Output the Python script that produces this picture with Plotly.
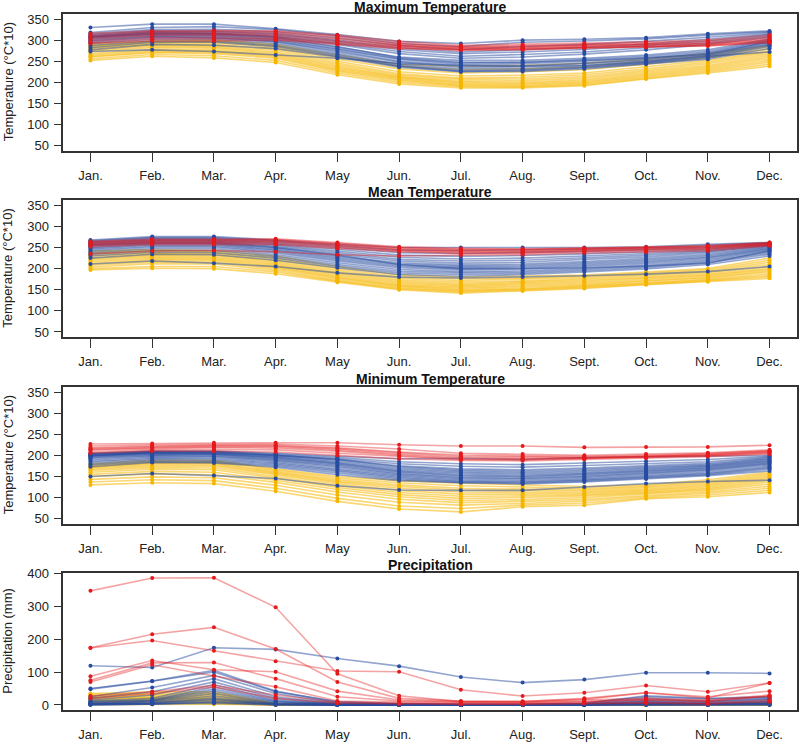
import plotly.graph_objects as go

months = ["Jan.", "Feb.", "Mar.", "Apr.", "May", "Jun.", "Jul.", "Aug.", "Sept.", "Oct.", "Nov.", "Dec."]
month_num = list(range(1, 13))

# ---------------- Maximum temperature (°C*10) ----------------
tmax_red = [
    [316, 322, 323, 322, 312, 297, 288, 290, 293, 296, 300, 312],
    [312, 320, 321, 320, 309, 293, 285, 287, 290, 293, 297, 308],
    [308, 317, 318, 317, 305, 290, 283, 285, 288, 291, 294, 305],
    [305, 314, 315, 313, 302, 288, 282, 283, 287, 289, 292, 302],
    [302, 311, 312, 310, 298, 286, 280, 281, 285, 287, 290, 300],
    [298, 306, 307, 306, 295, 284, 278, 280, 283, 285, 288, 298],
    [294, 302, 303, 303, 292, 282, 277, 278, 282, 284, 287, 296],
    [292, 298, 298, 300, 290, 280, 276, 277, 281, 283, 286, 294],
]
tmax_blue = [
    [330, 338, 338, 327, 313, 297, 292, 300, 302, 306, 315, 322],
    [318, 330, 332, 325, 310, 292, 285, 295, 298, 303, 312, 320],
    [315, 325, 326, 320, 305, 287, 278, 285, 290, 297, 307, 318],
    [312, 322, 322, 316, 300, 282, 272, 278, 283, 291, 302, 315],
    [310, 320, 320, 313, 297, 278, 268, 272, 278, 287, 298, 313],
    [308, 318, 317, 310, 293, 273, 262, 266, 272, 282, 294, 310],
    [308, 316, 316, 308, 290, 268, 257, 260, 267, 277, 290, 307],
    [307, 316, 315, 307, 285, 258, 248, 247, 252, 258, 266, 296],
    [305, 314, 313, 305, 283, 260, 252, 252, 257, 265, 277, 303],
    [303, 312, 311, 302, 280, 256, 246, 248, 254, 262, 273, 300],
    [300, 310, 309, 300, 278, 254, 243, 244, 250, 258, 270, 298],
    [298, 308, 306, 297, 275, 250, 240, 240, 246, 255, 268, 295],
    [295, 306, 305, 296, 272, 248, 236, 237, 244, 252, 265, 292],
    [292, 302, 302, 292, 268, 243, 232, 233, 240, 250, 263, 290],
    [287, 298, 298, 288, 265, 240, 228, 230, 236, 247, 260, 288],
    [282, 295, 295, 285, 262, 238, 226, 228, 235, 245, 258, 285],
    [277, 290, 288, 280, 260, 236, 225, 226, 232, 243, 255, 280],
    [273, 277, 273, 265, 257, 245, 240, 238, 240, 248, 262, 272],
]
tmax_yellow = [
    [290, 298, 300, 290, 265, 243, 238, 240, 245, 255, 268, 288],
    [287, 295, 297, 287, 260, 238, 230, 232, 237, 250, 263, 285],
    [285, 293, 294, 284, 255, 232, 222, 225, 230, 243, 258, 280],
    [282, 290, 290, 280, 250, 225, 215, 217, 222, 237, 252, 275],
    [280, 288, 287, 276, 246, 220, 210, 212, 218, 232, 248, 272],
    [276, 285, 284, 272, 242, 217, 207, 208, 214, 228, 244, 268],
    [273, 282, 281, 269, 238, 214, 203, 204, 210, 225, 240, 264],
    [268, 278, 277, 266, 235, 212, 200, 200, 206, 222, 237, 260],
    [265, 275, 274, 263, 232, 210, 197, 197, 203, 219, 234, 256],
    [262, 272, 271, 260, 229, 207, 194, 194, 200, 216, 231, 252],
    [260, 270, 268, 257, 226, 204, 192, 191, 197, 213, 228, 248],
    [256, 266, 263, 252, 222, 200, 190, 189, 194, 210, 225, 243],
    [252, 262, 258, 247, 218, 196, 187, 187, 192, 208, 222, 238],
]

# ---------------- Mean temperature (°C*10) ----------------
tmean_red = [
    [265, 270, 270, 271, 262, 252, 248, 247, 249, 251, 255, 262],
    [263, 268, 268, 269, 260, 250, 246, 246, 248, 250, 253, 261],
    [261, 266, 266, 267, 258, 248, 244, 244, 247, 249, 252, 260],
    [259, 264, 264, 265, 256, 246, 242, 242, 245, 247, 250, 259],
    [257, 262, 262, 263, 254, 244, 240, 240, 244, 246, 249, 258],
    [255, 260, 260, 260, 251, 242, 238, 238, 242, 244, 247, 257],
    [252, 257, 257, 257, 248, 240, 236, 236, 240, 242, 245, 256],
    [235, 242, 243, 240, 233, 230, 232, 233, 237, 239, 242, 254],
]
tmean_blue = [
    [268, 276, 276, 268, 258, 250, 250, 250, 250, 252, 258, 262],
    [266, 274, 274, 266, 254, 244, 243, 244, 246, 249, 255, 261],
    [264, 272, 272, 263, 250, 238, 236, 238, 241, 245, 251, 260],
    [262, 270, 270, 260, 246, 232, 229, 231, 235, 240, 247, 258],
    [260, 268, 268, 257, 242, 227, 223, 225, 230, 236, 244, 256],
    [258, 266, 266, 254, 238, 222, 218, 220, 226, 232, 241, 255],
    [256, 264, 264, 251, 234, 218, 213, 215, 222, 228, 238, 253],
    [255, 262, 262, 250, 232, 210, 200, 200, 202, 206, 213, 242],
    [253, 261, 261, 248, 230, 214, 209, 211, 217, 224, 234, 251],
    [250, 259, 259, 245, 227, 211, 206, 208, 214, 221, 231, 249],
    [248, 257, 257, 243, 224, 208, 203, 205, 211, 218, 228, 247],
    [245, 254, 254, 240, 221, 205, 200, 202, 208, 215, 226, 245],
    [242, 251, 251, 237, 218, 202, 197, 199, 205, 212, 223, 243],
    [238, 247, 247, 233, 214, 198, 193, 195, 201, 208, 220, 240],
    [234, 243, 243, 229, 210, 194, 190, 192, 198, 205, 217, 237],
    [230, 239, 238, 225, 206, 190, 186, 189, 195, 202, 214, 234],
    [225, 234, 233, 220, 202, 186, 182, 186, 192, 199, 210, 230],
    [211, 218, 213, 205, 190, 180, 178, 180, 183, 187, 193, 205],
]
tmean_yellow = [
    [242, 245, 243, 230, 205, 185, 180, 182, 185, 192, 200, 225],
    [238, 242, 240, 226, 200, 181, 176, 178, 182, 189, 197, 220],
    [234, 238, 237, 222, 196, 177, 172, 175, 179, 186, 194, 215],
    [230, 235, 234, 218, 192, 173, 168, 171, 176, 183, 191, 210],
    [226, 232, 231, 215, 189, 170, 164, 168, 173, 180, 188, 205],
    [223, 229, 228, 212, 186, 167, 161, 165, 170, 178, 185, 201],
    [220, 226, 225, 209, 183, 164, 158, 162, 167, 175, 183, 198],
    [216, 223, 222, 206, 180, 161, 155, 159, 164, 172, 180, 195],
    [212, 220, 219, 203, 178, 159, 152, 156, 161, 170, 178, 192],
    [208, 216, 215, 200, 175, 157, 149, 153, 159, 167, 175, 188],
    [204, 212, 211, 196, 172, 154, 147, 151, 157, 165, 173, 184],
    [200, 205, 205, 192, 170, 152, 145, 149, 155, 163, 171, 181],
    [197, 201, 200, 188, 168, 150, 142, 147, 153, 162, 169, 177],
]

# ---------------- Minimum temperature (°C*10) ----------------
tmin_red = [
    [227, 228, 230, 230, 230, 225, 222, 222, 219, 220, 220, 224],
    [222, 225, 226, 227, 222, 215, 205, 203, 200, 203, 206, 213],
    [218, 222, 224, 224, 218, 208, 201, 199, 197, 200, 204, 211],
    [216, 220, 222, 222, 216, 206, 198, 196, 195, 198, 203, 210],
    [214, 218, 220, 220, 213, 203, 195, 193, 194, 197, 201, 208],
    [212, 216, 218, 217, 210, 200, 192, 191, 193, 196, 200, 207],
    [208, 213, 214, 213, 205, 197, 190, 189, 192, 195, 199, 205],
    [205, 210, 210, 208, 200, 192, 188, 187, 190, 193, 197, 203],
]
tmin_blue = [
    [205, 210, 210, 205, 198, 192, 193, 190, 195, 196, 198, 200],
    [204, 209, 209, 203, 195, 185, 180, 178, 182, 186, 190, 198],
    [203, 208, 208, 201, 192, 180, 174, 172, 176, 180, 185, 196],
    [202, 207, 207, 200, 190, 175, 168, 166, 170, 175, 181, 194],
    [200, 207, 206, 200, 190, 173, 165, 163, 167, 172, 178, 192],
    [200, 206, 205, 198, 187, 170, 162, 160, 164, 170, 176, 190],
    [199, 205, 204, 196, 184, 167, 159, 157, 161, 167, 174, 188],
    [198, 204, 203, 195, 182, 164, 156, 154, 158, 165, 172, 186],
    [197, 203, 202, 193, 180, 162, 153, 151, 156, 163, 170, 184],
    [195, 201, 200, 191, 178, 160, 151, 149, 154, 161, 168, 182],
    [193, 199, 198, 189, 175, 157, 148, 146, 151, 158, 166, 180],
    [190, 197, 196, 187, 172, 155, 146, 144, 149, 156, 164, 178],
    [187, 194, 193, 184, 168, 152, 143, 141, 146, 153, 161, 175],
    [184, 191, 190, 181, 165, 149, 140, 138, 143, 150, 158, 172],
    [180, 188, 187, 178, 162, 146, 138, 136, 141, 148, 156, 170],
    [177, 185, 184, 175, 158, 143, 136, 134, 139, 146, 154, 167],
    [173, 183, 182, 172, 154, 140, 135, 132, 137, 144, 152, 163],
    [150, 157, 152, 145, 128, 118, 117, 117, 125, 133, 138, 141],
]
tmin_yellow = [
    [180, 188, 188, 168, 150, 140, 134, 130, 126, 130, 142, 160],
    [177, 185, 185, 165, 146, 135, 128, 125, 122, 127, 138, 157],
    [174, 182, 182, 162, 142, 130, 122, 120, 119, 124, 135, 154],
    [172, 180, 180, 160, 139, 126, 118, 116, 116, 121, 132, 151],
    [170, 177, 177, 157, 136, 122, 113, 112, 113, 118, 129, 148],
    [167, 174, 174, 154, 132, 117, 108, 108, 110, 116, 126, 145],
    [164, 171, 170, 150, 128, 112, 103, 104, 107, 113, 123, 141],
    [160, 167, 166, 146, 124, 107, 98, 100, 104, 111, 120, 137],
    [155, 162, 160, 141, 119, 102, 93, 95, 100, 108, 117, 132],
    [150, 156, 154, 136, 113, 96, 88, 91, 96, 105, 113, 127],
    [143, 149, 147, 129, 106, 89, 82, 86, 92, 102, 110, 122],
    [137, 142, 140, 122, 98, 80, 74, 82, 87, 99, 106, 117],
    [130, 135, 133, 115, 91, 73, 66, 78, 82, 97, 102, 112],
]

# ---------------- Precipitation (mm) ----------------
prcp_red = [
    [347, 386, 387, 297, 95, 28, 10, 8, 10, 17, 12, 27],
    [174, 215, 236, 170, 70, 20, 12, 10, 20, 37, 21, 67],
    [173, 196, 165, 133, 103, 101, 46, 27, 37, 59, 40, 67],
    [87, 135, 107, 101, 42, 15, 10, 11, 17, 37, 25, 42],
    [75, 128, 129, 80, 25, 12, 8, 8, 15, 20, 15, 30],
    [70, 122, 88, 55, 12, 8, 6, 5, 10, 15, 10, 27],
    [27, 40, 60, 30, 8, 5, 3, 3, 5, 8, 5, 15],
    [20, 35, 55, 20, 5, 3, 2, 2, 4, 5, 3, 10],
]
prcp_blue = [
    [119, 114, 174, 169, 141, 118, 85, 68, 77, 98, 98, 96],
    [50, 73, 105, 42, 8, 3, 2, 2, 5, 28, 20, 25],
    [48, 72, 100, 40, 10, 4, 2, 2, 5, 25, 18, 23],
    [25, 53, 90, 35, 5, 2, 1, 1, 3, 20, 12, 20],
    [20, 40, 80, 25, 4, 1, 1, 1, 2, 15, 10, 18],
    [15, 30, 70, 20, 3, 1, 0, 0, 2, 12, 8, 15],
    [12, 20, 62, 15, 2, 1, 0, 0, 1, 10, 5, 12],
    [10, 15, 55, 12, 2, 0, 0, 0, 1, 8, 5, 10],
    [8, 14, 48, 10, 1, 0, 0, 0, 1, 6, 3, 8],
    [5, 12, 42, 8, 1, 0, 0, 0, 0, 5, 3, 6],
    [5, 10, 35, 5, 1, 0, 0, 0, 0, 4, 2, 5],
    [3, 8, 28, 4, 0, 0, 0, 0, 0, 3, 2, 4],
    [3, 6, 22, 3, 0, 0, 0, 0, 0, 2, 1, 3],
    [2, 5, 18, 2, 0, 0, 0, 0, 0, 2, 1, 2],
    [2, 4, 15, 2, 0, 0, 0, 0, 0, 1, 1, 2],
    [1, 3, 10, 1, 0, 0, 0, 0, 0, 1, 0, 1],
    [1, 2, 8, 1, 0, 0, 0, 0, 0, 1, 0, 1],
    [0, 2, 5, 0, 0, 0, 0, 0, 0, 0, 0, 0],
]
prcp_yellow = [
    [35, 40, 40, 5, 2, 0, 0, 0, 0, 2, 3, 8],
    [32, 35, 36, 4, 1, 0, 0, 0, 0, 1, 2, 6],
    [28, 30, 32, 3, 1, 0, 0, 0, 0, 1, 2, 5],
    [25, 27, 28, 3, 1, 0, 0, 0, 0, 1, 1, 4],
    [22, 24, 24, 2, 0, 0, 0, 0, 0, 1, 1, 3],
    [18, 22, 20, 2, 0, 0, 0, 0, 0, 0, 1, 3],
    [15, 20, 18, 1, 0, 0, 0, 0, 0, 0, 1, 2],
    [12, 17, 15, 1, 0, 0, 0, 0, 0, 0, 0, 2],
    [10, 14, 12, 1, 0, 0, 0, 0, 0, 0, 0, 1],
    [8, 12, 10, 0, 0, 0, 0, 0, 0, 0, 0, 1],
    [5, 8, 6, 0, 0, 0, 0, 0, 0, 0, 0, 1],
    [3, 5, 4, 0, 0, 0, 0, 0, 0, 0, 0, 0],
    [1, 2, 2, 0, 0, 0, 0, 0, 0, 0, 0, 0],
]

titles = ["Maximum Temperature", "Mean Temperature", "Minimum Temperature", "Precipitation"]
ylabels = ["Temperature (°C*10)", "Temperature (°C*10)", "Temperature (°C*10)", "Precipitation (mm)"]
temp_ticks = [50, 100, 150, 200, 250, 300, 350]
prcp_ticks = [0, 100, 200, 300, 400]

# colours (point colour, line colour with transparency)
group_colors = {
    "yellow": ("rgb(245,182,0)", "rgba(245,182,0,0.55)"),
    "blue": ("rgb(40,76,160)", "rgba(40,76,160,0.5)"),
    "red": ("rgb(228,26,28)", "rgba(228,26,28,0.4)"),
}
draw_order = ["yellow", "blue", "red"]

panels = [
    {"yellow": tmax_yellow, "blue": tmax_blue, "red": tmax_red},
    {"yellow": tmean_yellow, "blue": tmean_blue, "red": tmean_red},
    {"yellow": tmin_yellow, "blue": tmin_blue, "red": tmin_red},
    {"yellow": prcp_yellow, "blue": prcp_blue, "red": prcp_red},
]

W, H = 800, 744
box_left, box_right = 63.3, 796.7
box_tops = [14.0, 200.3, 387.0, 573.3]
box_h = 136.7
title_y = [7, 192, 379, 565]

fig = go.Figure()
font_family = "Liberation Sans, Arial, Helvetica, sans-serif"
axis_color = "#333333"

for i, panel in enumerate(panels):
    ax = "" if i == 0 else str(i + 1)
    for g in draw_order:
        pc, lc = group_colors[g]
        for series in panel[g]:
            fig.add_trace(go.Scatter(
                x=month_num, y=series, mode="lines+markers",
                line=dict(color=lc, width=1.6),
                marker=dict(color=pc, size=4),
                xaxis="x" + ax, yaxis="y" + ax,
                showlegend=False, hoverinfo="skip",
            ))
    top = box_tops[i]
    ydom = [1 - (top + box_h) / H, 1 - top / H]
    xdom = [box_left / W, box_right / W]
    xa = dict(
        domain=xdom, anchor="y" + ax, range=[0.56, 12.44],
        tickmode="array", tickvals=month_num, ticktext=months,
        ticks="outside", ticklen=9, tickwidth=1.3, tickcolor=axis_color,
        showline=True, linecolor=axis_color, linewidth=1.6, mirror=True,
        showgrid=False, zeroline=False, ticklabelstandoff=3, automargin=False,
        tickfont=dict(size=13, color="#222222", family=font_family),
    )
    if i < 3:
        yr, yt = [38, 362], temp_ticks
    else:
        yr, yt = [-15.4, 400.4], prcp_ticks
    ya = dict(
        domain=ydom, anchor="x" + ax, range=yr,
        tickmode="array", tickvals=yt,
        ticks="outside", ticklen=8, tickwidth=1.3, tickcolor=axis_color,
        showline=True, linecolor=axis_color, linewidth=1.6, mirror=True,
        showgrid=False, zeroline=False, ticklabelstandoff=2, automargin=False,
        tickfont=dict(size=13, color="#222222", family=font_family),
    )
    fig.update_layout(**{"xaxis" + ax: xa, "yaxis" + ax: ya})
    fig.add_annotation(
        text="<b>" + titles[i] + "</b>", xref="paper", yref="paper",
        x=(box_left + box_right) / 2 / W, y=1 - title_y[i] / H,
        showarrow=False, xanchor="center", yanchor="middle",
        font=dict(size=14, color="#111111", family=font_family),
    )
    fig.add_annotation(
        text=ylabels[i], xref="paper", yref="paper",
        x=8 / W, y=1 - (top + box_h / 2) / H, textangle=-90,
        showarrow=False, xanchor="center", yanchor="middle",
        font=dict(size=13, color="#222222", family=font_family),
    )

fig.update_layout(
    width=W, height=H, margin=dict(l=0, r=0, t=0, b=0),
    paper_bgcolor="white", plot_bgcolor="white",
    font=dict(family=font_family),
    showlegend=False,
)

fig.write_html(
    "out.html",
    config={"displayModeBar": False},
    post_script="document.body.style.margin='0px';document.body.style.overflow='hidden';",
)
